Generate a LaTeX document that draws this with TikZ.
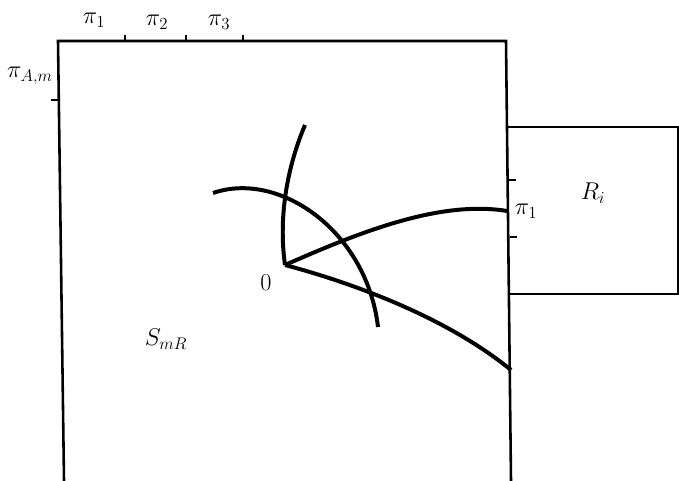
\documentclass[tikz,border=0pt]{standalone}
\usepackage{amsmath}
\usetikzlibrary{positioning}

\begin{document}
\begin{tikzpicture}[x=0.03cm,y=-0.03cm,
    frame/.style={line width=2.2pt},
    tick/.style={line width=1.5pt},
    path/.style={line width=3.4pt},
    lab/.style={font=\huge,inner sep=1pt}]
  \useasboundingbox (0,0) rectangle (679,481);
  \def\xl{58}
  \def\xr{506}
  \def\yt{41}

  % region S
  \coordinate (TL) at (\xl,\yt);
  \coordinate (TR) at (\xr,\yt);
  \coordinate (BL) at (64,481);
  \coordinate (BR) at (511,481);
  \draw[frame] (BL) -- (TL) -- (TR) -- (BR);
  \foreach \x in {125,186,243} \draw[tick] (\x,\yt) -- (\x,35);
  \draw[tick] (\xl,100) -- (51,100);
  \node[lab] (p1) at (94,20) {$\pi_1$};
  \node[lab] (p2) at (157,22) {$\pi_2$};
  \node[lab] (p3) at (219,22) {$\pi_3$};
  \node[lab] (pam) at (30,76) {$\pi_{A,m}$};
  \node[lab] (smr) at (166,339) {$S_{mR}$};

  % region R
  \draw[frame] (508,127) -- (678,127) -- (678,294) -- (510,294);
  \draw[tick] (509,180) -- (516,180);
  \draw[tick] (510,237) -- (517,237);
  \node[lab] (ri) at (593,193) {$R_i$};
  \node[lab] (pr) at (526,211) {$\pi_1$};

  % paths from 0
  \coordinate (O) at (285,265);
  \node[lab] (o) at (266,283) {0};
  \draw[path] (O) .. controls (278,215) and (288,165) .. (305,125);
  \draw[path] (213,193) .. controls (280,170) and (367,232) .. (378,327);
  \draw[path] (O) .. controls (360,232) and (440,200) .. (507,211);
  \draw[path] (O) .. controls (360,285) and (450,320) .. (511,370);

\end{tikzpicture}
\end{document}
